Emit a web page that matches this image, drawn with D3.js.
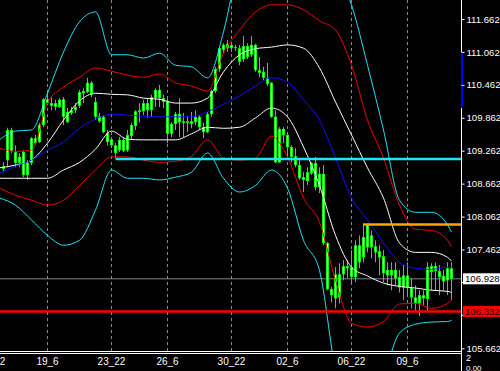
<!DOCTYPE html>
<html lang="en">
<head>
<meta charset="UTF-8">
<title>Candles with bands</title>
<style>
  body { margin: 0; background: #000; }
  svg { display: block; font-family: "Liberation Sans", Arial, sans-serif; }
</style>
</head>
<body>
<svg id="chart" width="500" height="371"></svg>
<script src="https://d3js.org/d3.v7.min.js"></script>
<script>
// ---- candles (bar index 0..112) ----
const openP = [
  108.93,109.09,109.64,109.24,109.04,109.24,108.82,109.04,109.49,109.42,
  109.73,110.20,110.13,110.06,110.06,110.20,109.78,109.95,110.00,110.08,
  110.31,110.33,110.50,110.15,109.89,109.88,109.58,109.47,109.36,109.27,
  109.46,109.27,109.53,109.71,109.97,109.98,110.13,110.00,110.22,110.37,
  110.22,110.17,109.57,109.75,109.93,109.80,109.77,109.80,109.78,109.88,
  109.69,109.60,109.93,110.35,110.75,111.10,111.21,111.13,111.15,111.13,
  110.93,111.17,111.01,111.19,110.73,110.70,110.59,110.50,109.88,109.05,
  109.66,109.55,109.33,109.16,109.00,108.78,108.71,108.85,109.04,108.60,
  108.84,107.58,106.74,106.57,107.01,107.01,107.16,107.14,106.96,107.54,
  107.32,107.50,107.72,107.52,107.43,107.34,106.99,107.09,107.09,106.96,
  106.77,106.99,106.77,106.59,106.48,106.63,106.56,107.16,107.07,107.07,
  106.98,106.90,107.12
];
const highP = [
  109.05,109.68,109.68,109.36,109.22,109.27,109.09,109.51,109.55,109.77,
  110.22,110.31,110.24,110.19,110.22,110.24,110.04,110.06,110.13,110.37,
  110.40,110.59,110.53,110.24,109.95,109.91,109.64,109.51,109.40,109.51,
  109.51,109.64,109.77,110.00,110.13,110.19,110.22,110.28,110.40,110.46,
  110.28,110.22,109.78,109.97,110.22,109.95,109.89,109.97,110.00,109.91,
  109.77,109.97,110.37,110.79,111.15,111.22,111.28,111.22,111.19,111.19,
  111.35,111.22,111.35,111.21,110.97,110.79,110.86,110.51,110.00,109.69,
  109.69,109.60,109.36,109.31,109.13,108.87,108.96,109.05,109.15,108.96,
  109.00,107.60,106.78,107.14,107.21,107.27,107.27,107.45,107.63,107.72,
  107.94,107.92,107.81,107.63,107.54,107.45,107.23,107.23,107.23,107.09,
  107.18,107.23,106.94,106.81,106.72,106.72,107.23,107.21,107.23,107.18,
  107.09,107.23,107.23
];
const lowP = [
  108.87,108.96,109.22,108.96,108.96,108.78,108.73,109.00,109.36,109.40,
  109.69,110.09,110.00,110.00,110.04,109.73,109.77,109.91,109.95,110.04,
  110.13,110.31,110.24,109.82,109.77,109.58,109.36,109.31,109.13,109.24,
  109.24,109.24,109.46,109.64,109.78,109.91,109.86,109.88,110.06,110.06,
  110.04,109.40,109.51,109.64,109.51,109.51,109.60,109.67,109.73,109.64,
  109.49,109.58,109.88,110.31,110.70,111.04,111.06,111.06,111.08,110.82,
  110.88,110.93,110.97,110.70,110.60,110.55,110.44,109.86,109.04,109.04,
  109.40,109.15,109.05,108.96,108.73,108.51,108.64,108.82,108.54,108.49,
  107.54,106.72,106.50,106.39,106.48,106.90,106.94,106.85,106.87,107.12,
  107.23,107.41,107.30,107.23,106.99,106.87,106.81,106.72,106.81,106.68,
  106.54,106.63,106.39,106.35,106.25,106.45,106.35,106.72,106.72,106.63,
  106.72,106.63,106.54
];
const closeP = [
  108.98,109.64,109.26,109.04,109.15,108.82,109.04,109.49,109.40,109.73,
  110.20,110.13,110.08,110.13,110.19,109.88,109.97,110.00,110.06,110.33,
  110.35,110.50,110.28,109.88,109.80,109.60,109.42,109.36,109.22,109.46,
  109.26,109.55,109.73,109.98,110.00,110.13,110.00,110.24,110.37,110.22,
  110.15,109.57,109.75,109.93,109.78,109.77,109.80,109.75,109.88,109.69,
  109.60,109.93,110.35,110.75,111.13,111.19,111.13,111.19,111.13,110.88,
  111.17,110.97,111.19,110.73,110.68,110.59,110.48,109.88,109.05,109.66,
  109.55,109.33,109.15,109.00,108.76,108.73,108.87,109.04,108.60,108.84,
  107.58,106.74,106.63,107.01,106.59,107.16,107.12,106.96,107.54,107.23,
  107.69,107.91,107.50,107.41,107.32,107.03,107.09,106.99,106.94,106.77,
  106.99,106.77,106.59,106.48,106.63,106.57,107.14,107.05,107.16,106.96,
  106.88,107.12,106.928
];

// ---- indicator lines, read every 4 bars ----
const bandIdx = [-1,3,7,11,15,19,23,27,31,35,39,43,47,51,55,59,63,67,71,75,79,83,87,91,95,99,103,107,111,112];
const maBlue = [108.85,108.98,109.09,109.27,109.42,109.67,109.84,109.93,109.91,109.89,109.88,109.88,109.88,109.97,110.11,
                110.26,110.44,110.59,110.51,110.19,109.82,109.13,108.40,108.00,107.58,107.23,107.12,107.10,107.14,107.14];
const whiteUp = [108.95,109.00,109.09,109.40,109.82,110.17,110.31,110.29,110.28,110.22,110.20,110.13,110.13,110.22,110.70,
                 111.01,111.12,111.15,111.19,111.13,110.77,110.15,109.55,108.95,108.40,107.58,107.41,107.41,107.32,107.25];
const whiteLo = [108.76,108.76,108.76,108.76,108.91,109.05,109.29,109.62,109.47,109.46,109.46,109.46,109.57,109.69,109.67,
                 109.69,109.86,110.04,109.88,109.33,108.63,107.72,107.14,106.98,106.85,106.79,106.76,106.72,106.70,106.68];
const redUp = [109.31,109.25,109.27,110.13,110.42,110.60,110.77,110.71,110.64,110.60,110.66,110.50,110.44,110.35,111.04,
               111.46,111.79,111.92,111.92,111.83,111.63,111.46,110.82,109.82,109.13,108.27,107.83,107.81,107.63,107.52];
const redLo = [108.58,108.45,108.36,108.27,108.36,108.63,108.91,109.15,109.15,109.09,109.05,109.07,109.16,109.46,109.13,
               109.09,109.13,109.53,109.15,108.40,107.96,106.90,106.12,106.05,106.15,106.47,106.48,106.39,106.48,106.54];
const cyanUp = [109.46,109.62,109.64,110.31,111.06,111.61,111.79,111.01,111.01,110.95,111.04,110.82,110.79,110.59,111.43,
                112.74,113.47,113.83,113.83,113.47,113.10,112.56,111.92,110.82,109.64,108.36,108.14,108.14,107.91,107.78];
const cyanLo = [108.40,108.27,108.00,107.72,107.54,107.63,108.18,108.91,108.76,108.76,108.73,108.78,108.87,109.22,108.76,
                108.51,108.63,108.91,108.58,107.63,107.08,105.26,104.35,103.98,105.08,105.94,106.10,106.14,106.15,106.17];

// ---- axes ----
const priceTicks = [111.662,111.062,110.462,109.862,109.262,108.662,108.062,107.462,106.862,106.262,105.662];
const timeTickIdx = [-3, 11, 27, 41, 57, 71, 87, 101];
const timeLabels = ["16_22","19_6","23_22","26_6","30_22","02_6","06_22","09_6"];

// ---- horizontal levels ----
const cyanLevel = { price: 109.109, from: 28 };
const orangeLevel = { price: 107.918, from: 90 };
const redLevel = 106.332;
const bidLevel = 106.928;
const blueMarker = [111.06, 110.04];

const W = 500, H = 371;
const plotR = 461, plotB = 351;
const fontSz = "9.6px";

const svg = d3.select("#chart");
svg.append("rect").attr("width", W).attr("height", H).attr("fill", "#000");

const x = d3.scaleLinear().domain([0, 112]).range([3.5, 451.5]);
const y = d3.scaleLinear().domain([105.662, 111.662]).range([348.3, 19]);

svg.append("clipPath").attr("id", "plotClip")
  .append("rect").attr("x", 0).attr("y", 0).attr("width", plotR).attr("height", plotB);

const plot = svg.append("g").attr("clip-path", "url(#plotClip)");

// vertical dashed grid
plot.selectAll(".vgrid").data(timeTickIdx).join("line")
  .attr("x1", d => x(d)).attr("x2", d => x(d))
  .attr("y1", 0).attr("y2", plotB)
  .attr("stroke", "#8a8a8a").attr("stroke-dasharray", "3,3")
  .attr("shape-rendering", "crispEdges");

// bid line (gray)
plot.append("line")
  .attr("x1", 0).attr("x2", plotR).attr("y1", y(bidLevel)).attr("y2", y(bidLevel))
  .attr("stroke", "#778899").attr("stroke-width", 1);

// candles
const bars = d3.range(openP.length).map(i => ({ i, o: openP[i], h: highP[i], l: lowP[i], c: closeP[i] }));
plot.selectAll(".wick").data(bars).join("line")
  .attr("x1", d => x(d.i)).attr("x2", d => x(d.i))
  .attr("y1", d => y(d.h)).attr("y2", d => y(d.l))
  .attr("stroke", "#00ff00").attr("stroke-width", 1);
plot.selectAll(".body").data(bars).join("rect")
  .attr("x", d => x(d.i) - 1.5).attr("width", 3)
  .attr("y", d => y(Math.max(d.o, d.c)))
  .attr("height", d => Math.max(1, Math.abs(y(d.o) - y(d.c))))
  .attr("fill", "#00ff00");
plot.selectAll(".core").data(bars.filter(d => Math.abs(y(d.o) - y(d.c)) > 2)).join("line")
  .attr("x1", d => x(d.i)).attr("x2", d => x(d.i))
  .attr("y1", d => y(Math.max(d.o, d.c)) + 1)
  .attr("y2", d => y(Math.min(d.o, d.c)) - 1)
  .attr("stroke", "#d4ffd4").attr("stroke-width", 1);

// band lines
const line = d3.line().x(d => x(d[0])).y(d => y(d[1])).curve(d3.curveMonotoneX);
const bands = [
  { vals: cyanUp, color: "#20e4f4" },
  { vals: cyanLo, color: "#20e4f4" },
  { vals: redUp, color: "#f00000" },
  { vals: redLo, color: "#f00000" },
  { vals: whiteUp, color: "#ffffff" },
  { vals: whiteLo, color: "#ffffff" },
  { vals: maBlue, color: "#1010ff" }
];
bands.forEach(b => {
  plot.append("path")
    .datum(bandIdx.map((k, j) => [k, b.vals[j]]))
    .attr("d", line)
    .attr("fill", "none")
    .attr("stroke", b.color)
    .attr("stroke-width", 1);
});

// horizontal levels
plot.append("line")
  .attr("x1", x(cyanLevel.from)).attr("x2", plotR)
  .attr("y1", y(cyanLevel.price)).attr("y2", y(cyanLevel.price))
  .attr("stroke", "#20e4f4").attr("stroke-width", 2.5);
plot.append("line")
  .attr("x1", x(orangeLevel.from)).attr("x2", plotR)
  .attr("y1", y(orangeLevel.price)).attr("y2", y(orangeLevel.price))
  .attr("stroke", "#ffa500").attr("stroke-width", 2.5);
plot.append("line")
  .attr("x1", 0).attr("x2", plotR)
  .attr("y1", y(redLevel)).attr("y2", y(redLevel))
  .attr("stroke", "#ff0000").attr("stroke-width", 2.5);

// frame lines
svg.append("line").attr("x1", plotR + 0.5).attr("x2", plotR + 0.5).attr("y1", 0).attr("y2", H)
  .attr("stroke", "#fff");
svg.append("line").attr("x1", 0).attr("x2", plotR).attr("y1", plotB + 0.5).attr("y2", plotB + 0.5)
  .attr("stroke", "#fff");
svg.append("line").attr("x1", 0).attr("x2", plotR).attr("y1", plotB + 2.5).attr("y2", plotB + 2.5)
  .attr("stroke", "#fff");

// blue marker on the price scale
svg.append("rect")
  .attr("x", plotR).attr("width", 2)
  .attr("y", y(blueMarker[0])).attr("height", y(blueMarker[1]) - y(blueMarker[0]))
  .attr("fill", "#0000ff");

// right price axis (labels hidden under the price boxes are left out)
const boxed = [bidLevel, redLevel];
const yAxis = d3.axisRight(y)
  .tickValues(priceTicks.filter(t => !boxed.some(b => Math.abs(y(b) - y(t)) < 8)))
  .tickSize(3).tickPadding(2)
  .tickFormat(d3.format(".3f"));
const gy = svg.append("g").attr("transform", `translate(${plotR + 0.5},0)`).call(yAxis);
gy.select(".domain").remove();
gy.selectAll(".tick line").attr("stroke", "#fff");
gy.selectAll(".tick text").attr("fill", "#fff").style("font-size", fontSz)
  .style("font-family", "Liberation Sans, Arial, sans-serif");

// ticks under the boxes still get their mark
svg.selectAll(".hidTick").data(priceTicks.filter(t => boxed.some(b => Math.abs(y(b) - y(t)) < 8))).join("line")
  .attr("x1", plotR + 0.5).attr("x2", plotR + 3.5)
  .attr("y1", d => y(d)).attr("y2", d => y(d))
  .attr("stroke", "#fff");

// price boxes
function priceBox(price, bg) {
  const g = svg.append("g");
  g.append("rect").attr("x", plotR + 2).attr("y", y(price) - 5.5).attr("width", 38).attr("height", 11)
    .attr("fill", bg);
  g.append("text").attr("x", plotR + 4).attr("y", y(price)).attr("dy", "0.35em")
    .attr("fill", "#000").style("font-size", fontSz).text(d3.format(".3f")(price));
}
priceBox(bidLevel, "#ffffff");
priceBox(redLevel, "#ff0000");

// bottom time labels
svg.selectAll(".tlabel").data(timeTickIdx).join("text")
  .attr("x", d => x(d)).attr("y", 365)
  .attr("text-anchor", "middle")
  .attr("fill", "#fff").style("font-size", "10px")
  .text((d, k) => timeLabels[k]);

// sub-window scale labels
svg.append("text").attr("x", plotR + 5).attr("y", 361).attr("fill", "#fff").style("font-size", "9px").text("2");
svg.append("text").attr("x", plotR + 5).attr("y", 370.5).attr("fill", "#fff").style("font-size", "8px").text("0.00");
</script>
</body>
</html>
